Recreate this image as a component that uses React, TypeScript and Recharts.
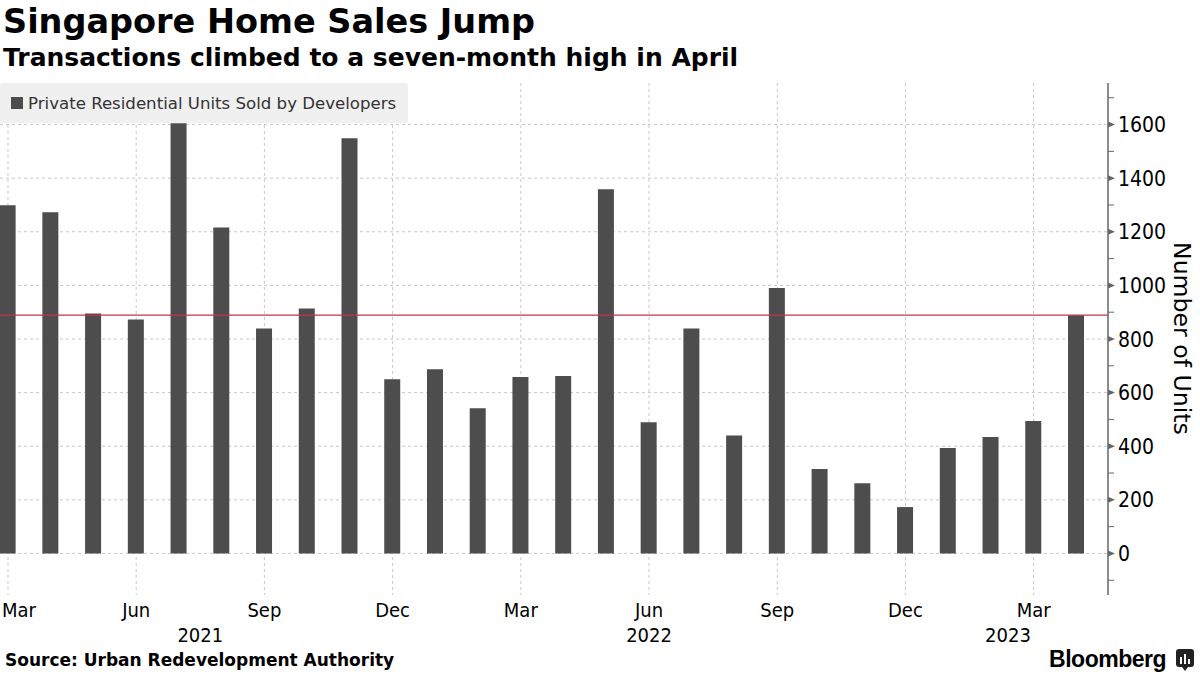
import React from 'react'
import {
  BarChart,
  Bar,
  XAxis,
  YAxis,
  CartesianGrid,
  ReferenceLine,
} from 'recharts'

// ─── Data ─────────────────────────────────────────────────────────────────────

const months = [
  'Mar', 'Apr', 'May', 'Jun', 'Jul', 'Aug', 'Sep', 'Oct', 'Nov', 'Dec',
  'Jan', 'Feb', 'Mar', 'Apr', 'May', 'Jun', 'Jul', 'Aug', 'Sep', 'Oct', 'Nov', 'Dec',
  'Jan', 'Feb', 'Mar', 'Apr',
]
const unitsSold = [
  1299, 1273, 895, 873, 1605, 1216, 839, 914, 1549, 650,
  687, 542, 658, 662, 1359, 489, 839, 440, 990, 315, 262, 173,
  393, 434, 494, 889,
]
const monthTicks = [0, 3, 6, 9, 12, 15, 18, 21, 24]
const yearLabels = ['2021', '2022', '2023']
const yearTickPos = [4.5, 15, 23.4]
const majorTicks = [0, 200, 400, 600, 800, 1000, 1200, 1400, 1600]
const allTicks = [-100, 0, 100, 200, 300, 400, 500, 600, 700, 800, 900, 1000, 1100, 1200, 1300, 1400, 1500, 1600, 1700]

const seriesName = 'Private Residential Units Sold by Developers'
const latest = unitsSold[unitsSold.length - 1]

const data = unitsSold.map((v, i) => ({ idx: i, month: months[i], value: v }))

const FONT = '"DejaVu Sans Condensed", "DejaVu Sans", sans-serif'
const WIDE = '"DejaVu Sans", sans-serif'
const BAR = '#4d4d4d'

// ─── Ticks ────────────────────────────────────────────────────────────────────

function MonthTick({ x, y, payload }: any) {
  const first = payload.value === 0
  return (
    <text
      x={first ? x - 6 : x}
      y={y + 22}
      textAnchor={first ? 'start' : 'middle'}
      fontSize={20}
      fontFamily={FONT}
      fill="#000"
    >
      {months[payload.value]}
    </text>
  )
}

function YearTick({ x, y, payload }: any) {
  const i = yearTickPos.indexOf(payload.value)
  return (
    <text x={x} y={y + 19} textAnchor="middle" fontSize={20} fontFamily={FONT} fill="#000">
      {yearLabels[i]}
    </text>
  )
}

function ValueTick({ x, y, payload }: any) {
  const v = payload.value as number
  const major = majorTicks.includes(v)
  if (!major) {
    return <line x1={x} y1={y} x2={x + 6} y2={y} stroke="#666" strokeWidth={1} />
  }
  return (
    <g>
      <path d={`M${x},${y - 3} L${x + 7},${y} L${x},${y + 3} Z`} fill="#666" />
      <text x={x + 10} y={y} dy="0.36em" fontSize={21} fontFamily={FONT} fill="#000">
        {v}
      </text>
    </g>
  )
}

// ─── Component ────────────────────────────────────────────────────────────────

export default function App() {
  return (
    <div style={{ position: 'absolute', left: 0, top: 0, width: 1200, height: 675, background: '#fff', fontFamily: WIDE, overflow: 'hidden' }}>
      <div style={{ position: 'absolute', left: 3, top: 2, fontSize: 33.5, fontWeight: 700, color: '#000', lineHeight: '40px' }}>
        Singapore Home Sales Jump
      </div>
      <div style={{ position: 'absolute', left: 3, top: 43, fontSize: 25, fontWeight: 700, color: '#000', lineHeight: '30px' }}>
        Transactions climbed to a seven-month high in April
      </div>

      <div style={{ position: 'absolute', left: 0, top: 0 }}>
        <BarChart width={1200} height={675} data={data} margin={{ top: 83, right: 0, bottom: 26, left: 0 }}>
          <CartesianGrid
            stroke="#c8c8c8"
            strokeDasharray="3 3"
            horizontalValues={majorTicks}
            verticalValues={monthTicks}
          />
          <XAxis
            xAxisId={0}
            dataKey="idx"
            type="number"
            domain={[-0.187, 25.74]}
            ticks={monthTicks}
            interval={0}
            axisLine={false}
            tickLine={false}
            tickSize={0}
            tickMargin={0}
            height={28}
            tick={(p: any) => <MonthTick {...p} />}
          />
          <XAxis
            xAxisId="yr"
            dataKey="idx"
            type="number"
            domain={[-0.187, 25.74]}
            ticks={yearTickPos}
            interval={0}
            axisLine={false}
            tickLine={false}
            tickSize={0}
            tickMargin={0}
            height={26}
            tick={(p: any) => <YearTick {...p} />}
          />
          <YAxis
            orientation="right"
            type="number"
            domain={[-155, 1755]}
            ticks={allTicks}
            interval={0}
            width={92}
            axisLine={{ stroke: '#666', strokeWidth: 1.5 }}
            tickLine={false}
            tickSize={0}
            tickMargin={0}
            tick={(p: any) => <ValueTick {...p} />}
          />
          <Bar dataKey="value" name={seriesName} fill={BAR} barSize={16} isAnimationActive={false} />
          <ReferenceLine y={latest} stroke="#c8304a" strokeWidth={1.2} />
        </BarChart>
      </div>

      {/* legend */}
      <div style={{ position: 'absolute', left: 0, top: 83, width: 408, height: 40, background: '#f0f0f0', borderRadius: 3, display: 'flex', alignItems: 'center' }}>
        <span style={{ display: 'inline-block', width: 12, height: 12, background: BAR, marginLeft: 11, marginRight: 5 }} />
        <span style={{ fontSize: 16.6, color: '#333' }}>{seriesName}</span>
      </div>

      {/* y axis title */}
      <div style={{ position: 'absolute', left: 1168, top: 242, writingMode: 'vertical-rl', fontSize: 23.6, color: '#000', lineHeight: '28px' }}>
        Number of Units
      </div>

      <div style={{ position: 'absolute', left: 5, top: 650, fontSize: 17, fontWeight: 700, color: '#000' }}>
        Source: Urban Redevelopment Authority
      </div>

      <div style={{ position: 'absolute', right: 6, top: 646, display: 'flex', alignItems: 'center' }}>
        <span style={{ fontFamily: '"Liberation Sans", Arial, sans-serif', fontWeight: 700, fontSize: 23, color: '#000', letterSpacing: -0.5 }}>Bloomberg</span>
        <svg width={18} height={24} style={{ marginLeft: 10 }}>
          <rect x={0} y={1} width={18} height={18} rx={3} fill="#222" />
          <path d="M6,19 L9,23 L12,19 Z" fill="#222" />
          <rect x={4} y={9} width={2} height={7} fill="#fff" />
          <rect x={8} y={6} width={2} height={10} fill="#fff" />
          <rect x={12} y={11} width={2} height={5} fill="#fff" />
        </svg>
      </div>
    </div>
  )
}
